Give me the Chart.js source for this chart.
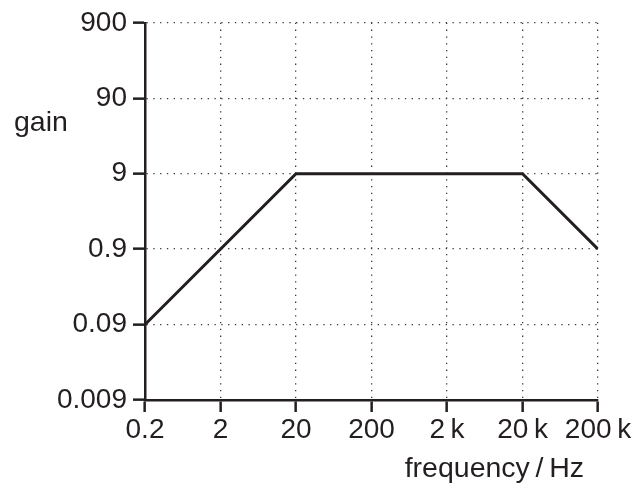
<!DOCTYPE html>
<html><head><meta charset="utf-8">
<script src="https://cdn.jsdelivr.net/npm/chart.js@4/dist/chart.umd.min.js"></script>
<style>html,body{margin:0;padding:0;background:#fff}</style>
</head><body>
<canvas id="c" width="638" height="488"></canvas>
<script>
const frequencies = [0.2, 20, 20000, 200000];
const gains = [0.09, 9, 9, 0.9];
const xTickValues = [0.2, 2, 20, 200, 2000, 20000, 200000];
const xTickLabels = ['0.2', '2', '20', '200', '2\u2009k', '20\u2009k', '200\u2009k'];
const yTickValues = [0.009, 0.09, 0.9, 9, 90, 900];
const yTickLabels = ['0.009', '0.09', '0.9', '9', '90', '900'];
const xTitle = 'frequency\u2009/\u2009Hz';
const yTitle = 'gain';

const INK = '#231f20';
const FONT = '"Liberation Sans", Arial, Helvetica, sans-serif';

const titlePlugin = {
  id: 'axisTitles',
  afterDraw(chart) {
    const ctx = chart.ctx;
    ctx.save();
    ctx.fillStyle = INK;
    ctx.font = '28.5px ' + FONT;
    ctx.textBaseline = 'alphabetic';
    ctx.textAlign = 'left';
    ctx.fillText(yTitle, 14, 131);
    ctx.textAlign = 'right';
    ctx.fillText(xTitle, 584, 477);
    ctx.restore();
  }
};

const commonGrid = {
  color: '#3a3a3a',
  lineWidth: 1.3,
  tickColor: INK,
  tickWidth: 2.5,
  tickLength: 12,
  tickBorderDash: []
};

new Chart(document.getElementById('c'), {
  type: 'scatter',
  data: {
    datasets: [{
      data: frequencies.map((f, i) => ({x: f, y: gains[i]})),
      showLine: true,
      borderColor: INK,
      borderWidth: 3,
      pointRadius: 0,
      fill: false,
      tension: 0
    }]
  },
  options: {
    responsive: false,
    devicePixelRatio: 1,
    animation: false,
    layout: {padding: {left: 0, right: 40, top: 22, bottom: 0}},
    plugins: {legend: {display: false}, tooltip: {enabled: false}},
    scales: {
      x: {
        type: 'logarithmic',
        min: 0.2, max: 200000,
        afterBuildTicks: s => { s.ticks = xTickValues.map(v => ({value: v})); },
        afterFit: s => { s.height = 88; },
        ticks: {
          autoSkip: false, maxRotation: 0, minRotation: 0,
          color: INK, font: {family: FONT, size: 28}, padding: 1,
          callback: (v, i) => xTickLabels[i]
        },
        grid: commonGrid,
        border: {display: true, color: INK, width: 2.5, dash: [1.3, 5.5]}
      },
      y: {
        type: 'logarithmic',
        min: 0.009, max: 900,
        afterBuildTicks: s => { s.ticks = yTickValues.map(v => ({value: v})); },
        afterFit: s => { s.width = 145; },
        ticks: {
          autoSkip: false,
          color: INK, font: {family: FONT, size: 28}, padding: 6,
          callback: (v, i) => yTickLabels[i]
        },
        grid: commonGrid,
        border: {display: true, color: INK, width: 2.5, dash: [1.3, 5.5]}
      }
    }
  },
  plugins: [titlePlugin]
});
</script>
</body></html>
